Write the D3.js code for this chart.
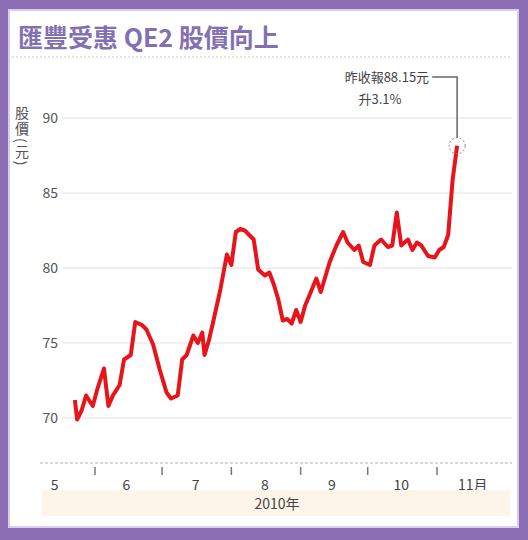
<!DOCTYPE html><html><head><meta charset="utf-8">
<script src="https://d3js.org/d3.v7.min.js"></script>
<style>body{margin:0;background:#8a6db3}svg{display:block}text{font-family:"Noto Sans CJK TC","Liberation Sans",sans-serif}</style>
</head><body><script>
const dates=["2010-05-23","2010-05-24","2010-05-26","2010-05-28","2010-05-31","2010-06-02","2010-06-05","2010-06-07","2010-06-09","2010-06-12","2010-06-14","2010-06-17","2010-06-19","2010-06-22","2010-06-24","2010-06-27","2010-06-30","2010-07-03","2010-07-05","2010-07-08","2010-07-10","2010-07-12","2010-07-15","2010-07-17","2010-07-19","2010-07-20","2010-07-22","2010-07-24","2010-07-27","2010-07-30","2010-08-01","2010-08-03","2010-08-05","2010-08-07","2010-08-09","2010-08-11","2010-08-13","2010-08-16","2010-08-18","2010-08-20","2010-08-22","2010-08-24","2010-08-26","2010-08-28","2010-08-30","2010-09-01","2010-09-03","2010-09-05","2010-09-08","2010-09-10","2010-09-11","2010-09-14","2010-09-17","2010-09-20","2010-09-22","2010-09-25","2010-09-27","2010-09-29","2010-10-02","2010-10-04","2010-10-07","2010-10-10","2010-10-12","2010-10-14","2010-10-16","2010-10-19","2010-10-21","2010-10-23","2010-10-25","2010-10-28","2010-10-31","2010-11-02","2010-11-04","2010-11-06","2010-11-08","2010-11-10"];
const prices=[71.2,69.9,70.5,71.5,70.8,71.9,73.3,70.8,71.5,72.2,73.9,74.2,76.4,76.2,75.9,74.9,73.2,71.7,71.3,71.5,73.9,74.2,75.5,75.0,75.7,74.2,75.2,76.5,78.5,80.9,80.2,82.4,82.6,82.5,82.2,81.9,79.9,79.5,79.7,78.9,77.9,76.5,76.6,76.3,77.2,76.4,77.5,78.2,79.3,78.4,78.9,80.4,81.5,82.4,81.7,81.2,81.5,80.4,80.2,81.5,81.9,81.4,81.5,83.7,81.5,81.9,81.2,81.7,81.5,80.8,80.7,81.2,81.4,82.2,85.9,88.15];
const yTicks=[70,75,80,85,90];
const monthLabels=["5","6","7","8","9","10","11月"];
const monthStarts=["2010-06-01","2010-07-01","2010-08-01","2010-09-01","2010-10-01","2010-11-01"];
const labelDates=["2010-05-14","2010-06-15","2010-07-16","2010-08-16","2010-09-15","2010-10-16","2010-11-17"];
const title="匯豐受惠 QE2 股價向上", yTitle="股價(元)", xTitle="2010年";
const note1="昨收報88.15元", note2="升3.1%";

const W=528,H=540,p=d3.timeParse("%Y-%m-%d");
const svg=d3.select("body").append("svg").attr("width",W).attr("height",H);
svg.append("rect").attr("x",0).attr("y",0).attr("width",W).attr("height",H).attr("fill","#8a6db3");
svg.append("rect").attr("x",9).attr("y",10).attr("width",W-19).attr("height",H-23).attr("fill","#fff").attr("stroke","#d9cdea").attr("stroke-width",2);
svg.append("text").attr("x",18).attr("y",47).attr("font-size",25).attr("font-weight","bold").attr("fill","#8370b3").text(title);
svg.append("line").attr("x1",12).attr("x2",512).attr("y1",57).attr("y2",57).attr("stroke","#ccc").attr("stroke-dasharray","2,2");
const x=d3.scaleTime().domain([p("2010-06-01"),p("2010-11-01")]).range([95,437]);
const y=d3.scaleLinear().domain([70,90]).range([418,118]);
const g=svg.append("g");
yTicks.forEach(t=>{g.append("line").attr("x1",62).attr("x2",512).attr("y1",y(t)).attr("y2",y(t)).attr("stroke","#e2e2e2").attr("stroke-width",1.2);
 g.append("text").attr("x",58).attr("y",y(t)+5).attr("text-anchor","end").attr("font-size",14).attr("fill","#555").text(t);});
g.append("text").attr("x",22).attr("y",106).attr("font-size",14).attr("fill","#555").attr("letter-spacing",2).style("writing-mode","vertical-rl").text(yTitle);
g.append("line").attr("x1",40).attr("x2",512).attr("y1",y(67)).attr("y2",y(67)).attr("stroke","#ccc").attr("stroke-width",1.5).attr("stroke-dasharray","3,2");
monthStarts.forEach(d=>g.append("line").attr("x1",x(p(d))).attr("x2",x(p(d))).attr("y1",y(67)+4).attr("y2",y(67)+12).attr("stroke","#777").attr("stroke-width",1.5));
monthLabels.forEach((m,i)=>g.append("text").attr("x",x(p(labelDates[i]))).attr("y",y(67)+27).attr("text-anchor","middle").attr("font-size",14).attr("fill","#444").text(m));
g.append("rect").attr("x",42).attr("y",490).attr("width",468).attr("height",26).attr("fill","#fdf4ea");
g.append("text").attr("x",277).attr("y",509).attr("text-anchor","middle").attr("font-size",14).attr("fill","#444").text(xTitle);
const data=dates.map((d,i)=>({d:p(d),v:prices[i]}));
g.append("path").datum(data).attr("d",d3.line().x(e=>x(e.d)).y(e=>y(e.v))).attr("fill","none").attr("stroke","#e8141b").attr("stroke-width",4).attr("stroke-linejoin","round");
const last=data[data.length-1],lx=x(last.d),ly=y(last.v);
g.append("circle").attr("cx",lx).attr("cy",ly).attr("r",8).attr("fill","none").attr("stroke","#888").attr("stroke-dasharray","2,2");
g.append("polyline").attr("points",`${lx},${ly-8} ${lx},77 ${lx-25},77`).attr("fill","none").attr("stroke","#666").attr("stroke-width",1.5);
g.append("text").attr("x",lx-28).attr("y",82).attr("text-anchor","end").attr("font-size",13).attr("fill","#444").text(note1);
g.append("text").attr("x",380).attr("y",104).attr("text-anchor","middle").attr("font-size",13).attr("fill","#444").text(note2);
</script></body></html>
